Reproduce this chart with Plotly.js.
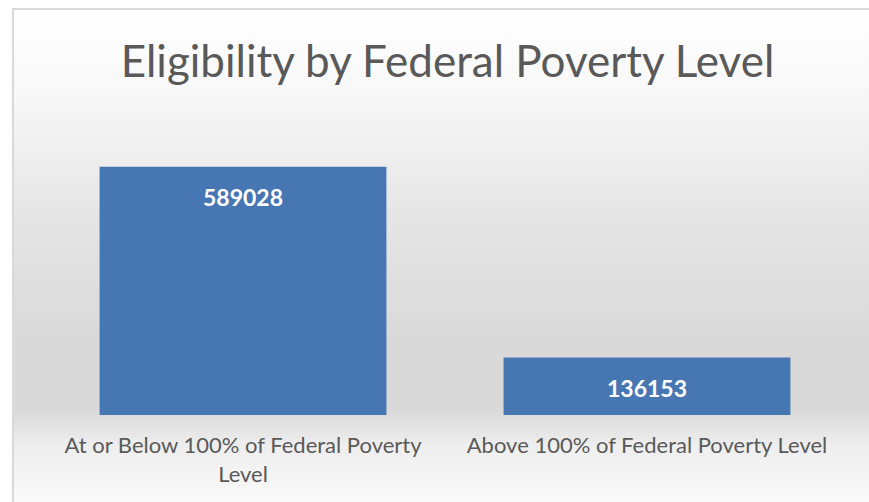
<!DOCTYPE html>
<html>
<head>
<meta charset="utf-8">
<script src="https://cdn.plot.ly/plotly-3.0.1.min.js"></script>
<style>
  html, body { margin: 0; padding: 0; background: #ffffff; overflow: hidden; }
  #bg {
    position: absolute; left: 12px; top: 8px; width: 900px; height: 520px;
    border-left: 2px solid #d9d9d9; border-top: 2px solid #d9d9d9;
    background: linear-gradient(to bottom, #ffffff 0px, #f7f7f7 90px, #e6e6e6 200px, #d9d9d9 330px, #d9d9d9 400px, #eeeeee 435px, #fafafa 494px);
  }
  #chart { position: absolute; left: 0; top: 0; width: 869px; height: 502px; }
</style>
</head>
<body>
<div id="bg"></div>
<div id="chart"></div>
<script>
const categories = ["At or Below 100% of Federal Poverty<br>Level", "Above 100% of Federal Poverty Level"];
const values = [589028, 136153];
const valueLabels = ["589028", "136153"];

const trace = {
  type: "bar",
  x: categories,
  y: values,
  marker: { color: "#4677b2", line: { width: 0 } },
  hoverinfo: "none"
};

const annotations = categories.map((c, i) => ({
  x: c, y: values[i], xref: "x", yref: "y",
  text: "<b>" + valueLabels[i] + "</b>",
  showarrow: false, yanchor: "middle", yshift: -30,
  font: { family: "Lato, 'Open Sans', sans-serif", size: 23, color: "#ffffff" }
}));

const layout = {
  width: 869, height: 502,
  paper_bgcolor: "rgba(0,0,0,0)",
  plot_bgcolor: "rgba(0,0,0,0)",
  margin: { l: 41, r: 20, t: 120, b: 87 },
  bargap: 0.29,
  showlegend: false,
  title: {
    text: "Eligibility by Federal Poverty Level",
    x: 0.515, xanchor: "center", y: 0.877, yanchor: "middle",
    font: { family: "Lato, 'Open Sans', sans-serif", size: 44, color: "#595959" }
  },
  xaxis: {
    showgrid: false, zeroline: false, showline: false, ticks: "",
    tickfont: { family: "Lato, 'Open Sans', sans-serif", size: 22, color: "#595959" },
    ticklabelstandoff: 15
  },
  yaxis: {
    range: [0, 700000], visible: false, showgrid: false, zeroline: false
  },
  annotations: annotations
};

Plotly.newPlot("chart", [trace], layout, { displayModeBar: false, staticPlot: true });
</script>
</body>
</html>
